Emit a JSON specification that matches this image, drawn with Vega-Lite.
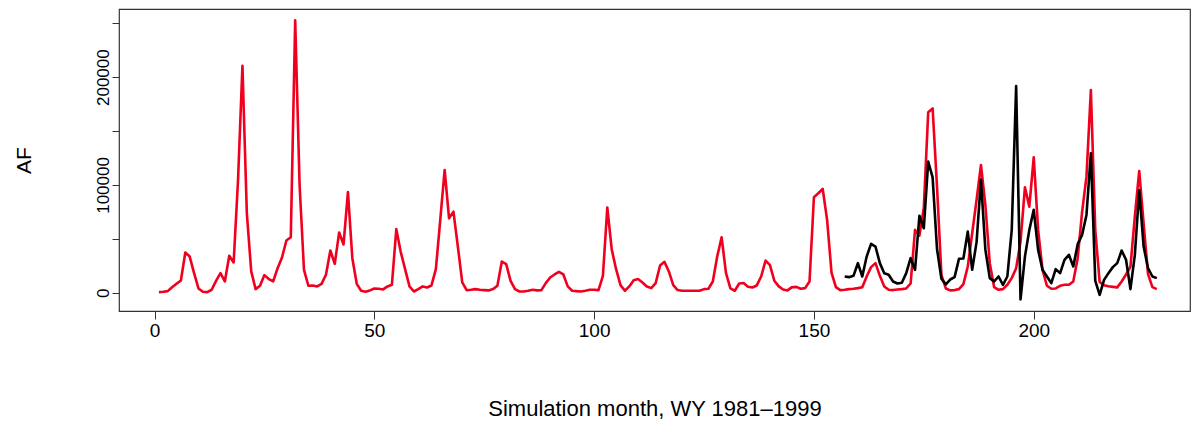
{
  "$schema": "https://vega.github.io/schema/vega-lite/v6.json",
  "autosize": {"type": "none"},
  "padding": {"left": 119, "top": 9, "right": 3, "bottom": 114},
  "width": 1071,
  "height": 302,
  "background": "white",
  "config": {
    "view": {"stroke": "#333333", "strokeWidth": 1.2},
    "font": "Liberation Sans",
    "axis": {"grid": false, "domain": false, "tickColor": "#333333", "labelColor": "black", "titleColor": "black", "labelFont": "Liberation Sans", "titleFont": "Liberation Sans", "titleFontWeight": "normal"}
  },
  "datasets": {
    "sim": [
      {"m":1,"v":600},{"m":2,"v":900},{"m":3,"v":1500},{"m":4,"v":5200},{"m":5,"v":8300},{"m":6,"v":11400},{"m":7,"v":37300},{"m":8,"v":33600},{"m":9,"v":18200},{"m":10,"v":4000},
      {"m":11,"v":900},{"m":12,"v":600},{"m":13,"v":2800},{"m":14,"v":11100},{"m":15,"v":18200},{"m":16,"v":10500},{"m":17,"v":34300},{"m":18,"v":28100},{"m":19,"v":104600},{"m":20,"v":210500},
      {"m":21,"v":73800},{"m":22,"v":19800},{"m":23,"v":3400},{"m":24,"v":6500},{"m":25,"v":16400},{"m":26,"v":12700},{"m":27,"v":10500},{"m":28,"v":22800},{"m":29,"v":32700},{"m":30,"v":48500},
      {"m":31,"v":51500},{"m":32,"v":252800},{"m":33,"v":100000},{"m":34,"v":21300},{"m":35,"v":6500},{"m":36,"v":6800},{"m":37,"v":5900},{"m":38,"v":8300},{"m":39,"v":16700},{"m":40,"v":39200},
      {"m":41,"v":26900},{"m":42,"v":55900},{"m":43,"v":44800},{"m":44,"v":93500},{"m":45,"v":32100},{"m":46,"v":8300},{"m":47,"v":1900},{"m":48,"v":900},{"m":49,"v":2200},{"m":50,"v":4000},
      {"m":51,"v":3700},{"m":52,"v":3100},{"m":53,"v":5900},{"m":54,"v":7400},{"m":55,"v":59000},{"m":56,"v":38000},{"m":57,"v":22000},{"m":58,"v":6000},{"m":59,"v":1200},{"m":60,"v":3400},
      {"m":61,"v":5900},{"m":62,"v":4900},{"m":63,"v":6800},{"m":64,"v":21900},{"m":65,"v":67600},{"m":66,"v":113900},{"m":67,"v":69100},{"m":68,"v":75300},{"m":69,"v":42900},{"m":70,"v":9600},
      {"m":71,"v":2500},{"m":72,"v":2800},{"m":73,"v":3400},{"m":74,"v":2800},{"m":75,"v":2500},{"m":76,"v":2200},{"m":77,"v":3400},{"m":78,"v":6500},{"m":79,"v":29000},{"m":80,"v":26500},
      {"m":81,"v":11100},{"m":82,"v":3400},{"m":83,"v":1200},{"m":84,"v":1200},{"m":85,"v":1900},{"m":86,"v":2800},{"m":87,"v":2200},{"m":88,"v":2500},{"m":89,"v":9000},{"m":90,"v":14200},
      {"m":91,"v":17000},{"m":92,"v":19400},{"m":93,"v":17000},{"m":94,"v":5900},{"m":95,"v":1900},{"m":96,"v":1500},{"m":97,"v":1200},{"m":98,"v":1900},{"m":99,"v":2800},{"m":100,"v":2800},
      {"m":101,"v":2500},{"m":102,"v":15700},{"m":103,"v":79000},{"m":104,"v":40400},{"m":105,"v":21900},{"m":106,"v":7100},{"m":107,"v":1900},{"m":108,"v":5900},{"m":109,"v":11700},{"m":110,"v":12700},
      {"m":111,"v":9600},{"m":112,"v":5900},{"m":113,"v":4300},{"m":114,"v":9000},{"m":115,"v":25300},{"m":116,"v":28700},{"m":117,"v":19800},{"m":118,"v":7100},{"m":119,"v":2500},{"m":120,"v":1900},
      {"m":121,"v":1900},{"m":122,"v":1900},{"m":123,"v":1900},{"m":124,"v":1900},{"m":125,"v":3400},{"m":126,"v":3700},{"m":127,"v":10500},{"m":128,"v":33600},{"m":129,"v":51500},{"m":130,"v":18200},
      {"m":131,"v":4000},{"m":132,"v":1900},{"m":133,"v":8600},{"m":134,"v":9000},{"m":135,"v":5600},{"m":136,"v":4900},{"m":137,"v":6800},{"m":138,"v":15100},{"m":139,"v":29900},{"m":140,"v":25600},
      {"m":141,"v":11100},{"m":142,"v":5900},{"m":143,"v":3000},{"m":144,"v":2200},{"m":145,"v":5200},{"m":146,"v":5500},{"m":147,"v":3700},{"m":148,"v":4300},{"m":149,"v":10500},{"m":150,"v":88600},
      {"m":151,"v":92300},{"m":152,"v":96300},{"m":153,"v":67600},{"m":154,"v":18800},{"m":155,"v":5200},{"m":156,"v":2500},{"m":157,"v":2800},{"m":158,"v":3400},{"m":159,"v":3700},{"m":160,"v":4300},
      {"m":161,"v":5200},{"m":162,"v":15100},{"m":163,"v":23800},{"m":164,"v":27500},{"m":165,"v":15700},{"m":166,"v":5900},{"m":167,"v":2800},{"m":168,"v":2500},{"m":169,"v":3100},{"m":170,"v":3400},
      {"m":171,"v":4000},{"m":172,"v":8600},{"m":173,"v":58300},{"m":174,"v":53000},{"m":175,"v":79000},{"m":176,"v":167500},{"m":177,"v":171000},{"m":178,"v":98500},{"m":179,"v":16700},{"m":180,"v":4000},
      {"m":181,"v":2200},{"m":182,"v":2500},{"m":183,"v":3400},{"m":184,"v":8000},{"m":185,"v":24400},{"m":186,"v":55200},{"m":187,"v":86100},{"m":188,"v":118500},{"m":189,"v":81500},{"m":190,"v":27500},
      {"m":191,"v":5200},{"m":192,"v":2800},{"m":193,"v":3400},{"m":194,"v":7400},{"m":195,"v":13600},{"m":196,"v":22800},{"m":197,"v":47500},{"m":198,"v":97800},{"m":199,"v":79900},{"m":200,"v":125600},
      {"m":201,"v":58300},{"m":202,"v":21300},{"m":203,"v":6500},{"m":204,"v":3700},{"m":205,"v":4000},{"m":206,"v":6500},{"m":207,"v":7400},{"m":208,"v":7400},{"m":209,"v":10500},{"m":210,"v":32100},
      {"m":211,"v":74700},{"m":212,"v":107700},{"m":213,"v":188000},{"m":214,"v":58300},{"m":215,"v":10000},{"m":216,"v":7000},{"m":217,"v":6000},{"m":218,"v":5500},{"m":219,"v":5000},{"m":220,"v":10500},
      {"m":221,"v":17000},{"m":222,"v":24000},{"m":223,"v":70700},{"m":224,"v":113000},{"m":225,"v":64500},{"m":226,"v":17300},{"m":227,"v":5200},{"m":228,"v":3400}
    ],
    "obs": [
      {"m":157,"v":15100},{"m":158,"v":14500},{"m":159,"v":15700},{"m":160,"v":27500},
      {"m":161,"v":15100},{"m":162,"v":33600},{"m":163,"v":45400},{"m":164,"v":42900},{"m":165,"v":27500},{"m":166,"v":18200},{"m":167,"v":16700},{"m":168,"v":10500},{"m":169,"v":8600},{"m":170,"v":9300},
      {"m":171,"v":18200},{"m":172,"v":32100},{"m":173,"v":21300},{"m":174,"v":71500},{"m":175,"v":59900},{"m":176,"v":121600},{"m":177,"v":107000},{"m":178,"v":40600},{"m":179,"v":13000},{"m":180,"v":7800},
      {"m":181,"v":12300},{"m":182,"v":14500},{"m":183,"v":31600},{"m":184,"v":31800},{"m":185,"v":56800},{"m":186,"v":21300},{"m":187,"v":47000},{"m":188,"v":105000},{"m":189,"v":40000},{"m":190,"v":13600},
      {"m":191,"v":10500},{"m":192,"v":15100},{"m":193,"v":7400},{"m":194,"v":15100},{"m":195,"v":58300},{"m":196,"v":191700},{"m":197,"v":-6200},{"m":198,"v":33600},{"m":199,"v":58300},{"m":200,"v":76900},
      {"m":201,"v":39800},{"m":202,"v":21300},{"m":203,"v":15100},{"m":204,"v":9000},{"m":205,"v":21900},{"m":206,"v":18200},{"m":207,"v":30600},{"m":208,"v":35200},{"m":209,"v":24400},{"m":210,"v":45100},
      {"m":211,"v":53700},{"m":212,"v":72200},{"m":213,"v":129300},{"m":214,"v":11000},{"m":215,"v":-1900},{"m":216,"v":12000},{"m":217,"v":18200},{"m":218,"v":23800},{"m":219,"v":27500},{"m":220,"v":39200},
      {"m":221,"v":30600},{"m":222,"v":3400},{"m":223,"v":35000},{"m":224,"v":95000},{"m":225,"v":42900},{"m":226,"v":22800},{"m":227,"v":15100},{"m":228,"v":13600}
    ]
  },
  "encoding": {
    "x": {
      "field": "m", "type": "quantitative",
      "scale": {"domain": [-8.08, 235.55], "nice": false, "zero": false},
      "axis": {"values": [0, 50, 100, 150, 200], "tickSize": 8, "tickWidth": 1, "labelFontSize": 19, "labelPadding": 2, "title": "Simulation month, WY 1981\u20131999", "titleFontSize": 22, "titlePadding": 58}
    },
    "y": {
      "field": "v", "type": "quantitative",
      "scale": {"domain": [-16900, 263200], "nice": false, "zero": false},
      "axis": {"values": [0, 50000, 100000, 150000, 200000, 250000], "labelExpr": "datum.value % 100000 == 0 ? format(datum.value, 'd') : ''", "tickSize": 7, "tickWidth": 1, "labelFontSize": 17, "labelAngle": -90, "labelAlign": "center", "labelBaseline": "bottom", "labelPadding": 0, "title": "AF", "titleFontSize": 21, "titlePadding": 60}
    }
  },
  "layer": [
    {"data": {"name": "sim"}, "mark": {"type": "line", "color": "#F0001E", "strokeWidth": 2.6, "strokeJoin": "round"}},
    {"data": {"name": "obs"}, "mark": {"type": "line", "color": "black", "strokeWidth": 2.6, "strokeJoin": "round"}}
  ]
}
